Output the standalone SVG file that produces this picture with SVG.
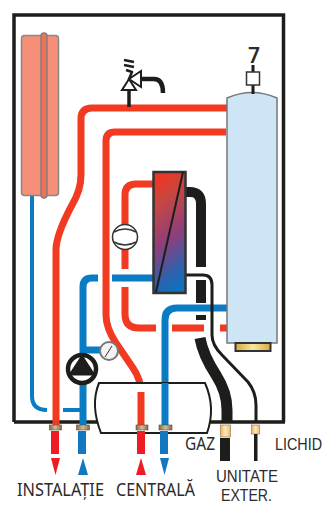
<svg xmlns="http://www.w3.org/2000/svg" width="325" height="505" viewBox="0 0 325 505">
<defs>
<linearGradient id="hx" x1="0.4" y1="0" x2="0.6" y2="1"><stop offset="0" stop-color="#ee3524"/><stop offset="0.2" stop-color="#c8473f"/><stop offset="0.55" stop-color="#8f3f7a"/><stop offset="0.85" stop-color="#2a62ae"/><stop offset="1" stop-color="#0f72bd"/></linearGradient>
<linearGradient id="gold" x1="0" x2="1" y1="0" y2="0"><stop offset="0" stop-color="#d8a93c"/><stop offset="0.5" stop-color="#f7e6a6"/><stop offset="1" stop-color="#d8a93c"/></linearGradient>
<linearGradient id="fit" x1="0" x2="1" y1="0" y2="0"><stop offset="0" stop-color="#8a6a45"/><stop offset="0.5" stop-color="#d0bd98"/><stop offset="1" stop-color="#8a6a45"/></linearGradient>
<linearGradient id="fit2" x1="0" x2="1" y1="0" y2="0"><stop offset="0" stop-color="#f2b866"/><stop offset="0.5" stop-color="#fbe7c2"/><stop offset="1" stop-color="#f2b866"/></linearGradient>
</defs>
<style>
.p{fill:none;stroke-linejoin:round}
.r{stroke:#f23a22;stroke-width:7}
.b{stroke:#0a7cc4;stroke-width:7}
.k{stroke:#1d1d1b}
.t{font-family:"Noto Sans","Open Sans",sans-serif;font-size:18px;fill:#2b2b2b}
.u{font-family:"Liberation Sans",Arial,sans-serif;font-size:16.500px;fill:#2b2b2b}
.f{fill:url(#fit);stroke:#5a5040;stroke-width:.6}
</style>
<g id="frame"><path d="M14 422V15H283.500V422" fill="none" stroke="#1d1d1b" stroke-width="3.500"/><path d="M14 422H100M208 422H285" fill="none" stroke="#1d1d1b" stroke-width="3.500"/></g>
<g id="connectors">
<path class="p b" style="stroke-width:4" d="M32 196V396Q32 410 47 410M63 410H82"/>
<path class="p r" d="M227 108H92Q81 108 81 119V175Q81 190 72 205Q56 235 56 250V425"/>
<path class="p r" d="M226 132H115Q106 132 106 141V315Q106 328 116 343L133 368Q141 380 141 392V425"/>
<path class="p r" d="M160 184H136Q125 184 125 195V269M125 287V314Q125 328 139 328H156"/>
<path class="p r" d="M172 328H204M220 328H229"/>
<path class="p b" d="M155 278H112M98 278H92Q83 278 83 287V425"/>
<path class="p b" d="M83 350H108"/>
<path class="p b" d="M227 308H177Q165 308 165 320V425"/>
<path class="p k" style="stroke-width:10" d="M186 192H190Q201 192 201 204V267M201 280V303M201 315V320"/>
<path class="p k" style="stroke-width:11" d="M200 338Q203 355 216 375Q227 392 227 410V422"/>
<path class="p k" style="stroke-width:3" d="M186 275H203Q212 275 212 285V335Q212 345 222 355L248 382Q256 392 256 405V422"/>
<path class="p k" style="stroke-width:3.500" d="M129 90V107"/>
</g>
<g id="vessel"><rect x="21.500" y="35.500" width="37" height="160" rx="3" fill="#f58f78" stroke="#888" stroke-width="1.500"/><rect x="41" y="33" width="6" height="165" rx="3" fill="#f0705a" stroke="#808080" stroke-width="1.500"/></g>
<g id="valve"><path class="p k" style="stroke-width:2.500" d="M124 60L134 62M124 65L134 67M126 70L132 72L129 79"/><path d="M122 90H136L129 79Z" fill="#fff" stroke="#1d1d1b" stroke-width="2"/><path d="M141 71V87L129 79Z" fill="#fff" stroke="#1d1d1b" stroke-width="2"/><path class="p k" style="stroke-width:4.500" d="M141 79H154Q163 79 163 93"/></g>
<g id="exchanger"><rect x="153.500" y="172" width="32" height="121" fill="url(#hx)" stroke="#333" stroke-width="2.500"/><path d="M183 172L156 292" stroke="#1d1d1b" stroke-width="2" fill="none"/></g>
<g id="compressor"><circle cx="125" cy="237" r="12.500" fill="#fff" stroke="#333" stroke-width="1.500"/><path d="M114 232Q125 226 136 232M114 242Q125 248 136 242" fill="none" stroke="#333" stroke-width="1.500"/></g>
<g id="tank"><path d="M227 98Q252 87 277 98V343H227Z" fill="#cde5f4" stroke="#777" stroke-width="1.500"/><rect x="235.500" y="343" width="35" height="8" fill="url(#gold)" stroke="#333" stroke-width="2"/><path class="p k" style="stroke-width:3" d="M253 65V72M253 85V94"/><rect x="246.500" y="72" width="13" height="13" fill="#fff" stroke="#333" stroke-width="1.500"/><text x="254" y="63" text-anchor="middle" class="t" style="font-size:21px;font-weight:600">7</text></g>
<g id="pump"><circle cx="82" cy="369" r="14" fill="#fff" stroke="#1d1d1b" stroke-width="4.500"/><path d="M82 355L95 375H69Z" fill="#1d1d1b" stroke="#1d1d1b" stroke-width="1" stroke-linejoin="round"/></g>
<g id="gauge"><circle cx="109" cy="351" r="9" fill="#f3f3f3" stroke="#777" stroke-width="2"/><path d="M105 357L112 346" stroke="#333" stroke-width="1"/></g>
<g id="separator"><path d="M99 383H205Q216 408 207 433H101Q90 405 99 383Z" fill="#fff" stroke="#1d1d1b" stroke-width="2"/><path class="p r" d="M141 392V427"/><path class="p b" d="M165 383V427"/></g>
<g id="ports">
<rect x="49.500" y="425" width="12" height="5" class="f"/><rect x="76.500" y="425" width="13" height="5" class="f"/><rect x="136" y="425" width="12" height="5" class="f"/><rect x="159" y="425" width="13" height="5" class="f"/>
<rect x="51" y="431" width="8" height="23" fill="#ee1c25"/><rect x="78" y="431" width="8" height="23" fill="#1278bf"/><rect x="137" y="431" width="8" height="23" fill="#ee1c25"/><rect x="160" y="431" width="8" height="23" fill="#1278bf"/>
<path d="M51 458H60L55.500 475Z" fill="#ee1c25"/><path d="M78 475H88L83 458Z" fill="#1278bf"/><path d="M136 475H146L141 458Z" fill="#ee1c25"/><path d="M160 458H169L164.500 475Z" fill="#1278bf"/>
<rect x="220.500" y="425" width="10" height="12" fill="url(#fit2)" stroke="#8a6a45" stroke-width=".6"/><rect x="251.500" y="425" width="8" height="9" fill="url(#fit2)" stroke="#8a6a45" stroke-width=".6"/>
<rect x="220" y="438" width="10" height="23" fill="#1d1d1b"/><rect x="254" y="434" width="3.500" height="27" fill="#1d1d1b"/>
</g>
<g id="labels">
<text x="17" y="496" class="t" textLength="87" lengthAdjust="spacingAndGlyphs">INSTALAȚIE</text>
<text x="116" y="496" class="t" textLength="79" lengthAdjust="spacingAndGlyphs">CENTRALĂ</text>
<text x="185" y="450" class="t" textLength="30" lengthAdjust="spacingAndGlyphs">GAZ</text>
<text class="u" transform="translate(275 450) scale(.87 1)">LICHID</text>
<text x="216" y="482" class="u" textLength="62" lengthAdjust="spacingAndGlyphs">UNITATE</text>
<text x="221" y="501" class="u" textLength="51" lengthAdjust="spacingAndGlyphs">EXTER.</text>
</g>
</svg>
